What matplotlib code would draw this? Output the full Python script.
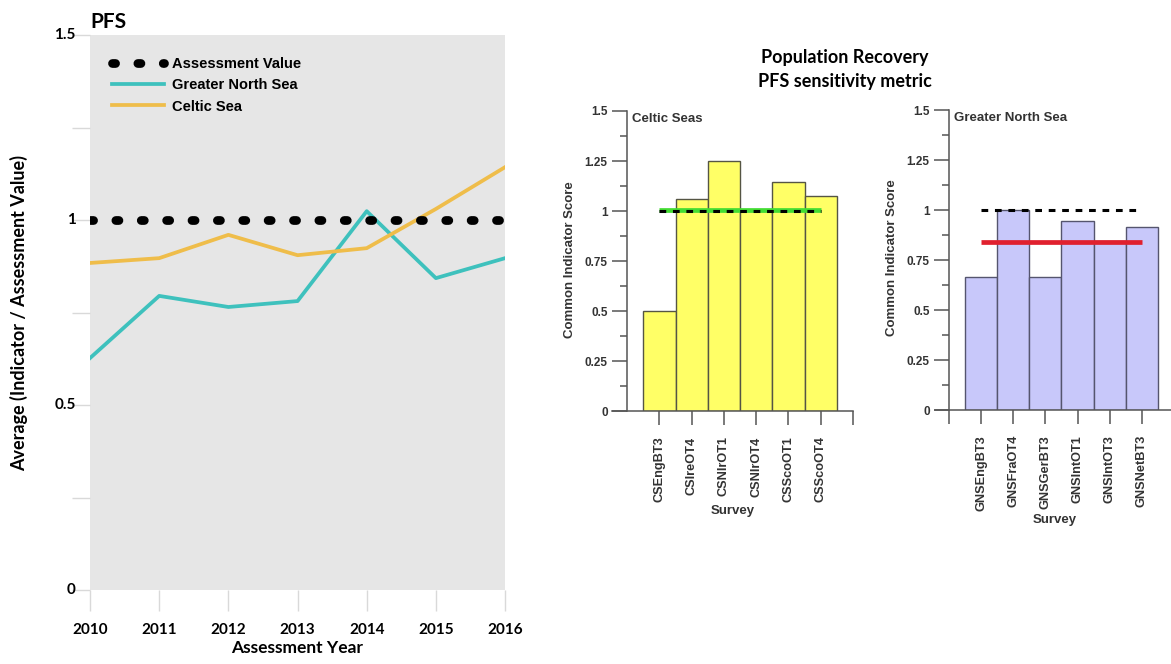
import numpy as np
import matplotlib.pyplot as plt
from matplotlib.ticker import MultipleLocator

# Average indicator / assessment value by year
years = [2010, 2011, 2012, 2013, 2014, 2015, 2016]
gns_avg = [0.627, 0.795, 0.765, 0.781, 1.024, 0.843, 0.897]
celtic_avg = [0.884, 0.897, 0.960, 0.905, 0.924, 1.030, 1.143]
assessment_value = 1.0

# Common indicator score per survey
cs_surveys = ['CSEngBT3', 'CSIreOT4', 'CSNIrOT1', 'CSNIrOT4', 'CSScoOT1', 'CSScoOT4']
cs_scores = [0.50, 1.059, 1.25, 1.0, 1.144, 1.076]
cs_mean = 1.005

gns_surveys = ['GNSEngBT3', 'GNSFraOT4', 'GNSGerBT3', 'GNSIntOT1', 'GNSIntOT3', 'GNSNetBT3']
gns_scores = [0.667, 1.0, 0.667, 0.945, 0.845, 0.917]
gns_mean = 0.84

CAL = ['Lato', 'DejaVu Sans']
ARIAL = ['Liberation Sans', 'DejaVu Sans']

fig = plt.figure(figsize=(11.71, 6.64), dpi=100)

# ---- left: trend lines ----
ax = fig.add_axes([0.0769, 0.1114, 0.3544, 0.8358])
ax.set_facecolor('#e6e6e6')
for s in ax.spines.values():
    s.set_visible(False)
ax.set_xlim(2010, 2016)
ax.set_ylim(0, 1.5)

ax.plot(years, [assessment_value] * len(years), color='black', lw=6.3,
        linestyle=(0, (0.35, 2.55)), dash_capstyle='round',
        label='Assessment Value', zorder=3)
ax.plot(years, gns_avg, color='#3ec1bd', lw=2.7, label='Greater North Sea', zorder=2)
ax.plot(years, celtic_avg, color='#efbd4a', lw=2.7, label='Celtic Sea', zorder=2)

ax.yaxis.set_major_locator(MultipleLocator(0.5))
ax.yaxis.set_minor_locator(MultipleLocator(0.25))
ax.set_yticklabels([])
for v in [0, 0.5, 1, 1.5]:
    ax.text(-0.035, v, f'{v:g}', transform=ax.get_yaxis_transform(),
            ha='right', va='center', fontsize=11, fontweight='bold', family=CAL)
ax.tick_params(axis='y', which='both', length=13, color='#d9d9d9', width=1)
ax.set_xticks(years)
ax.set_xticklabels([str(y) for y in years], fontsize=11, fontweight='bold', family=CAL)
ax.tick_params(axis='x', length=15, color='#d9d9d9', width=1, pad=9)
ax.set_xlabel('Assessment Year', fontsize=12.5, fontweight='bold', family=CAL, labelpad=2)
ax.set_ylabel('Average (Indicator / Assessment Value)', fontsize=13,
              fontweight='bold', family=CAL, labelpad=28)
ax.set_title('PFS', loc='left', fontsize=15, fontweight='bold', family=CAL, pad=5)

leg = ax.legend(loc='upper left', frameon=False, handlelength=3.6,
                prop={'family': ARIAL, 'weight': 'bold', 'size': 10.5},
                borderaxespad=1.1, labelspacing=0.5, handletextpad=0.5)


# ---- right: survey bar charts ----
def survey_panel(rect, xlim, labels, scores, face, edge, mean_val, mean_color,
                 panel_name, extra_tick):
    a = fig.add_axes(rect)
    pos = np.arange(1, len(labels) + 1)
    a.bar(pos, scores, width=1.0, color=face, edgecolor=edge, linewidth=1.0, zorder=2)
    a.plot([pos[0], pos[-1]], [mean_val, mean_val], color=mean_color, lw=3.4,
           solid_capstyle='butt', zorder=3)
    a.plot([pos[0], pos[-1]], [1, 1], color='black', lw=2.2,
           linestyle=(0, (2.2, 2.2)), zorder=4)
    a.set_xlim(*xlim)
    a.set_ylim(0, 1.52)
    for k in ['top', 'right']:
        a.spines[k].set_visible(False)
    a.spines['left'].set_position(('data', 0))
    a.spines['left'].set_bounds(0, 1.5)
    for k in ['left', 'bottom']:
        a.spines[k].set_color('#555555')
        a.spines[k].set_linewidth(1.1)
    a.yaxis.set_minor_locator(MultipleLocator(0.125))
    a.set_yticks([0, 0.25, 0.5, 0.75, 1, 1.25, 1.5])
    a.set_yticklabels(['0', '0.25', '0.5', '0.75', '1', '1.25', '1.5'],
                      fontsize=8.5, fontweight='bold', family=ARIAL, color='#333333')
    a.tick_params(axis='y', which='major', length=11, color='#555555', width=1.1, pad=3)
    a.tick_params(axis='y', which='minor', length=5, color='#555555', width=1.1)
    ticks = list(pos) + [extra_tick]
    a.set_xticks(ticks)
    a.set_xticklabels(labels + [''], rotation=90, fontsize=9.2, fontweight='bold',
                      family=ARIAL, color='#333333')
    a.tick_params(axis='x', length=10, color='#555555', width=1.1, pad=8)
    a.set_xlabel('Survey', fontsize=9.5, fontweight='bold', family=ARIAL,
                  color='#333333', labelpad=2)
    a.set_ylabel('Common Indicator Score', fontsize=9.5, fontweight='bold',
                 family=ARIAL, color='#333333', labelpad=6)
    a.text(0.15, 1.49, panel_name, ha='left', va='top', fontsize=9.5,
           fontweight='bold', family=ARIAL, color='#333333')
    return a


survey_panel([0.5226, 0.3803, 0.2058, 0.4586], (-0.47, 7.0), cs_surveys, cs_scores,
             '#ffff66', '#555544', cs_mean, '#44dd33', 'Celtic Seas', 7)
survey_panel([0.7985, 0.3825, 0.2039, 0.4578], (-0.44, 7.0), gns_surveys, gns_scores,
             '#c8c8fa', '#55556e', gns_mean, '#e0202e', 'Greater North Sea', 0)

fig.text(0.7216, 0.913, 'Population Recovery', ha='center', va='center',
         fontsize=13, fontweight='bold', family=CAL)
fig.text(0.7216, 0.878, 'PFS sensitivity metric', ha='center', va='center',
         fontsize=13, fontweight='bold', family=CAL)

fig.savefig('out.png', dpi=100)
